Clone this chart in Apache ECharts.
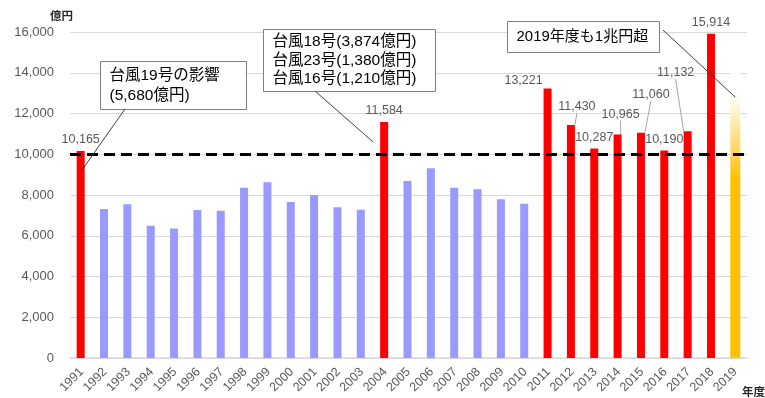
<!DOCTYPE html>
<html>
<head>
<meta charset="utf-8">
<script src="https://cdn.jsdelivr.net/npm/echarts@6/dist/echarts.min.js"></script>
<style>
  html, body { margin: 0; padding: 0; background: #fff; }
  #chart { width: 765px; height: 398px; }
</style>
</head>
<body>
<div id="chart"></div>
<script>
// Fiscal years on the category axis
const years = ['1991','1992','1993','1994','1995','1996','1997','1998','1999','2000',
  '2001','2002','2003','2004','2005','2006','2007','2008','2009','2010',
  '2011','2012','2013','2014','2015','2016','2017','2018','2019'];

// Claims paid per fiscal year, 億円 (1991–2018)
const payouts = [10165, 7310, 7540, 6490, 6350, 7260, 7230, 8360, 8630, 7660,
  8000, 7400, 7280, 11584, 8690, 9310, 8360, 8280, 7790, 7570,
  13221, 11430, 10287, 10965, 11060, 10190, 11132, 15914];

// 2019 is still an estimate, drawn as a fading bar
const estimate2019 = 15000;

// Reference level line
const thresholdLine = 10000;

// Y axis ticks
const yMin = 0, yMax = 16000, yStep = 2000;

// Callout texts
const note1991 = ['台風19号の影響', '(5,680億円)'];
const note2004 = ['台風18号(3,874億円)', '台風23号(1,380億円)', '台風16号(1,210億円)'];
const note2019 = ['2019年度も1兆円超'];

// Label shifts for crowded value labels (by year), and which ones get a guide line
const labelShift = {
  '2011': [-24, 3],
  '2012': [6, -7],
  '2014': [3, -9],
  '2015': [10, -27],
  '2017': [-12, -47]
};
const guided = ['2012', '2014', '2015', '2017'];

const FONT = "'Liberation Sans', 'Noto Sans CJK JP', sans-serif";
const RED = '#FF0000', BLUE = '#9999FF';

const mainData = payouts.map(function (v, i) {
  const high = v > thresholdLine;
  return {
    value: v,
    itemStyle: { color: high ? RED : BLUE },
    label: { show: high },
    labelLine: { show: guided.indexOf(years[i]) >= 0 }
  };
});
const estimateData = years.map(function (y, i) {
  return i === years.length - 1 ? estimate2019 : null;
});

const chart = echarts.init(document.getElementById('chart'), null, { renderer: 'canvas' });

chart.setOption({
  animation: false,
  backgroundColor: '#fff',
  textStyle: { fontFamily: FONT },
  grid: { left: 70, right: 18, top: 32, bottom: 40, containLabel: false },
  xAxis: {
    type: 'category',
    data: years,
    axisTick: { show: false },
    axisLine: { lineStyle: { color: '#D9D9D9', width: 1.5 } },
    axisLabel: { interval: 0, rotate: 45, fontSize: 12.5, color: '#595959', margin: 12, fontFamily: FONT }
  },
  yAxis: {
    type: 'value',
    min: yMin, max: yMax, interval: yStep,
    axisLine: { show: false },
    axisTick: { show: false },
    splitLine: { lineStyle: { color: '#D9D9D9', width: 1 } },
    axisLabel: {
      fontSize: 13, color: '#595959', margin: 16, fontFamily: FONT,
      formatter: function (v) { return v.toLocaleString('en-US'); }
    }
  },
  series: [
    {
      name: 'payout',
      type: 'bar',
      barWidth: 8,
      barGap: '-100%',
      data: mainData,
      label: {
        position: 'top',
        distance: 5,
        fontSize: 12.5,
        color: '#595959',
        fontFamily: FONT,
        formatter: function (p) { return p.value.toLocaleString('en-US'); }
      },
      labelLine: { lineStyle: { color: '#A6A6A6', width: 1 } },
      labelLayout: function (p) {
        const s = labelShift[years[p.dataIndex]];
        return s ? { dx: s[0], dy: s[1] } : {};
      },
      markLine: {
        silent: true,
        symbol: 'none',
        label: { show: false },
        lineStyle: { color: '#000', width: 3, type: [11, 6] },
        data: [{ yAxis: thresholdLine }]
      },
      z: 2
    },
    {
      name: 'estimate',
      type: 'bar',
      barWidth: 10,
      data: estimateData,
      itemStyle: {
        color: {
          type: 'linear', x: 0, y: 0, x2: 0, y2: 1,
          colorStops: [
            { offset: 0, color: '#FFFFFF' },
            { offset: 0.14, color: '#FFFFFF' },
            { offset: 0.42, color: '#FFC000' },
            { offset: 1, color: '#FFC000' }
          ]
        }
      },
      z: 1
    }
  ]
});

// Callout boxes with guide lines pointing at their bars
function px(year, value) {
  return chart.convertToPixel({ xAxisIndex: 0, yAxisIndex: 0 }, [year, value]);
}
function box(x, y, w, h, lines, fontSize, lineHeight) {
  return {
    type: 'group',
    z: 20,
    children: [
      { type: 'rect', shape: { x: x, y: y, width: w, height: h },
        style: { fill: '#fff', stroke: '#7F7F7F', lineWidth: 1 } },
      { type: 'text', x: x + 9, y: y + h / 2,
        style: { text: lines.join('\n'), fill: '#000', font: fontSize + 'px ' + FONT,
          lineHeight: lineHeight, verticalAlign: 'middle', align: 'left' } }
    ]
  };
}
function guide(x1, y1, p) {
  return { type: 'line', z: 19,
    shape: { x1: x1, y1: y1, x2: p[0], y2: p[1] },
    style: { stroke: '#404040', lineWidth: 1 } };
}

const a1 = px('1991', 9200);
const a2 = px('2004', 10600); a2[0] -= 12;
const a3 = px('2019', 12800);

chart.setOption({
  graphic: [
    guide(125, 109, a1),
    guide(315, 91, a2),
    guide(663, 30, a3),
    box(100.5, 61.5, 146, 48, note1991, 15.5, 19.5),
    box(263.5, 29.5, 172, 62, note2004, 15.5, 18.5),
    box(507.5, 21.5, 152, 31, note2019, 15, 18),
    { type: 'text', x: 50, y: 11, z: 20,
      style: { text: '億円', fill: '#262626', font: 'bold 11.5px ' + FONT } },
    { type: 'text', x: 742, y: 387, z: 20,
      style: { text: '年度', fill: '#262626', font: 'bold 11.5px ' + FONT } }
  ]
});
</script>
</body>
</html>
